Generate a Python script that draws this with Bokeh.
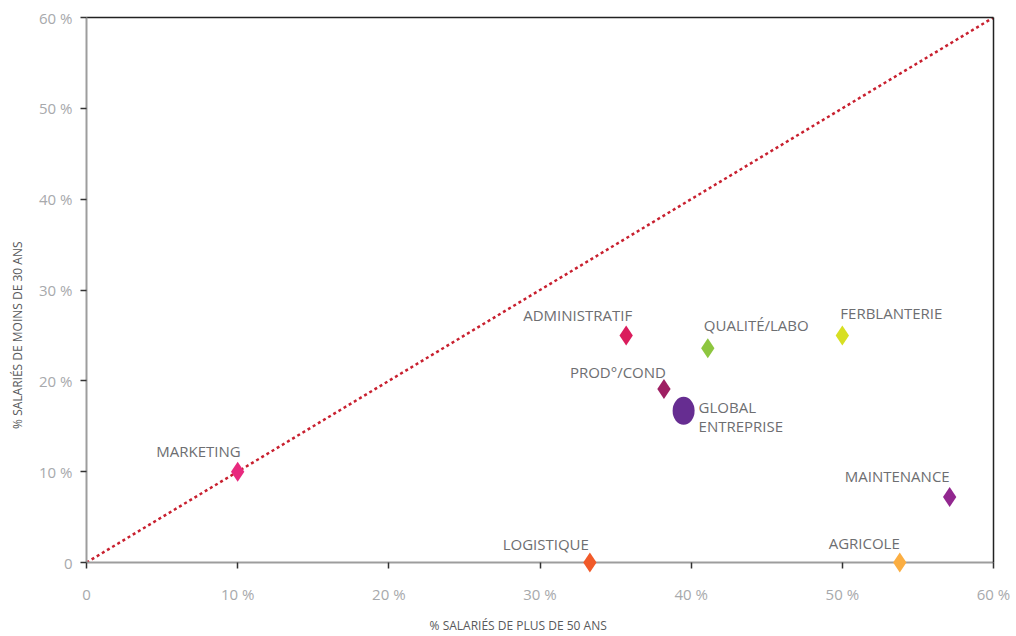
from bokeh.plotting import figure
from bokeh.models import ColumnDataSource, Range1d, LinearAxis, FixedTicker
from bokeh.core.properties import value
from bokeh.embed import file_html
from bokeh.resources import INLINE

# ---------------- data ----------------
services = ["MARKETING", "LOGISTIQUE", "ADMINISTRATIF", "QUALITÉ/LABO",
            "PROD°/COND", "FERBLANTERIE", "MAINTENANCE", "AGRICOLE"]
pct_over_50 = [10.0, 33.3, 35.7, 41.1, 38.2, 50.0, 57.1, 53.8]
pct_under_30 = [10.0, 0.0, 25.0, 23.6, 19.1, 25.0, 7.2, 0.0]

global_name = ["GLOBAL\nENTREPRISE"]
global_over_50 = [39.5]
global_under_30 = [16.7]

diag_x = [0, 60]
diag_y = [0, 60]

tick_values = [0, 10, 20, 30, 40, 50, 60]
tick_labels = ["0", "10 %", "20 %", "30 %", "40 %", "50 %", "60 %"]

x_title = "% SALARIÉS DE PLUS DE 50 ANS"
y_title = "% SALARIÉS DE MOINS DE 30 ANS"

# ---------------- styles ----------------
colors = ["#e8297e", "#f15a29", "#da1c5c", "#8dc63f",
          "#9e1f63", "#d7df23", "#92278f", "#fbae42"]
label_align = ["right", "right", "right", "left", "right", "left", "right", "right"]
label_dx = [3, -1, 6, -4, 2, -2, 0, 0]
label_dy = [-21, -19, -20, -23, -17, -22, -21, -20]
global_color = "#662d91"
FONT = "Open Sans"
NBSP = "\u00a0"

p = figure(width=1016, height=636, output_backend="svg", toolbar_location=None,
           x_range=Range1d(0, 60), y_range=Range1d(0, 60),
           min_border_left=86, min_border_right=23, min_border_top=17,
           min_border_bottom=74, outline_line_color=None,
           background_fill_color="white", border_fill_color="white")
p.grid.visible = False

overrides = {v: t for v, t in zip(tick_values, tick_labels)}
for ax in (p.xaxis[0], p.yaxis[0]):
    ax.ticker = FixedTicker(ticks=tick_values)
    ax.major_label_overrides = overrides
    ax.axis_line_color = "#9d9d9d"
    ax.axis_line_width = 2
    ax.major_tick_line_color = "#333333"
    ax.major_tick_line_width = 1.5
    ax.major_tick_in = 0
    ax.major_tick_out = 6
    ax.minor_tick_line_color = None
    ax.major_label_text_font = FONT
    ax.major_label_text_font_size = "15px"
    ax.major_label_text_color = "#a7a9ac"
    ax.axis_label_text_font = FONT
    ax.axis_label_text_font_size = "12px"
    ax.axis_label_text_font_style = "normal"
    ax.axis_label_text_color = "#58595b"
p.xaxis[0].major_label_standoff = 15
p.yaxis[0].major_label_standoff = 8
# trailing no-break spaces shift the centred titles as in the reference
p.xaxis[0].axis_label = x_title + NBSP * 14
p.xaxis[0].axis_label_standoff = 10
p.yaxis[0].axis_label = y_title + NBSP * 29
p.yaxis[0].axis_label_standoff = 10

for loc in ("above", "right"):
    a = LinearAxis(ticker=FixedTicker(ticks=[]), axis_line_color="#222222",
                   axis_line_width=1.5, major_tick_line_color=None,
                   minor_tick_line_color=None, major_label_text_font_size="0px",
                   major_label_standoff=0, major_tick_out=0, major_tick_in=0)
    p.add_layout(a, loc)

p.line(diag_x, diag_y, line_color="#c8202f", line_width=2.5, line_dash="3 3")

src = ColumnDataSource(dict(x=pct_over_50, y=pct_under_30, name=services, color=colors,
                            align=label_align, dx=label_dx, dy=label_dy))
p.scatter("x", "y", marker="diamond", size=20, fill_color="color", line_color=None,
          source=src, level="overlay")
p.text("x", "y", text="name", x_offset="dx", y_offset="dy", text_align="align",
       text_baseline="middle", text_font=value(FONT), text_font_size="15px",
       text_color="#6d6e71", source=src)

gsrc = ColumnDataSource(dict(x=global_over_50, y=global_under_30, name=global_name))
p.ellipse("x", "y", width=22, height=28, width_units="screen", height_units="screen",
          fill_color=global_color, line_color=None, source=gsrc)
p.text("x", "y", text="name", x_offset=15, y_offset=6, text_align="left",
       text_baseline="middle", text_font=value(FONT), text_font_size="15px",
       text_line_height=0.95, text_color="#6d6e71", source=gsrc)

open("out.html", "w").write(file_html(p, INLINE))
